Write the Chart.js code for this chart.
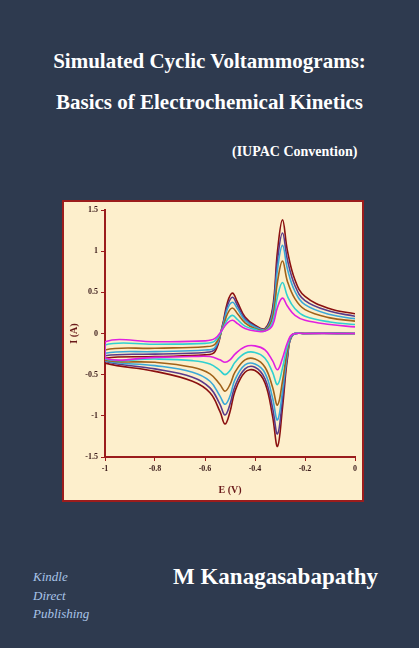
<!DOCTYPE html>
<html>
<head>
<meta charset="utf-8">
<script src="https://cdn.jsdelivr.net/npm/chart.js@4"></script>
<style>
  body { margin: 0; width: 419px; height: 648px; background: #2e3a4f; position: relative; overflow: hidden; font-family: "Liberation Serif", serif; }
  .t { position: absolute; color: #fff; font-weight: bold; white-space: nowrap; }
  #box { position: absolute; left: 62px; top: 200px; width: 298px; height: 298px; background: #fdefcc; border: 2px solid #9b1c1c; }
  .kdp { position: absolute; left: 33px; color: #a9c4e8; font-style: italic; font-size: 13px; }
</style>
</head>
<body>
<div class="t" style="left:0;width:419px;text-align:center;top:49px;font-size:21px">Simulated Cyclic Voltammograms:</div>
<div class="t" style="left:0;width:419px;text-align:center;top:90px;font-size:21px">Basics of Electrochemical Kinetics</div>
<div class="t" style="left:232px;top:144px;font-size:14px">(IUPAC Convention)</div>
<div id="box"><canvas id="cv" width="298" height="298"></canvas></div>
<div class="kdp" style="top:569px">Kindle</div>
<div class="kdp" style="top:588px">Direct</div>
<div class="kdp" style="top:606px">Publishing</div>
<div class="t" style="left:173px;top:564px;font-size:23px">M Kanagasabapathy</div>
<script>
// forward sweep 0 -> -1 V, then reverse -1 -> 0 V
const fwdE = [0, -0.2, -0.25, -0.27, -0.29, -0.31, -0.33, -0.36, -0.40, -0.44, -0.48, -0.50, -0.52, -0.54, -0.58, -0.65, -0.8, -1.0];
const revE = [-1, -0.8, -0.6, -0.56, -0.53, -0.51, -0.49, -0.47, -0.44, -0.40, -0.36, -0.33, -0.31, -0.29, -0.27, -0.24, -0.2, -0.1, 0];

const fwdDarkred = [0, 0, -0.02, -0.3, -0.9, -1.37, -1.0, -0.6, -0.45, -0.47, -0.7, -0.95, -1.1, -0.95, -0.72, -0.58, -0.46, -0.36];
const fwdPurple  = [0, 0, -0.02, -0.27, -0.8, -1.22, -0.9, -0.55, -0.41, -0.43, -0.64, -0.86, -0.99, -0.86, -0.66, -0.53, -0.43, -0.34];
const fwdBlue    = [0, 0, -0.02, -0.24, -0.7, -1.05, -0.78, -0.48, -0.37, -0.38, -0.56, -0.76, -0.86, -0.76, -0.58, -0.47, -0.39, -0.33];
const fwdBrown   = [0, 0, -0.01, -0.2, -0.58, -0.87, -0.65, -0.41, -0.31, -0.32, -0.47, -0.62, -0.70, -0.62, -0.49, -0.41, -0.35, -0.32];
const fwdCyan    = [0, 0, -0.01, -0.15, -0.42, -0.62, -0.47, -0.3, -0.23, -0.24, -0.35, -0.45, -0.50, -0.45, -0.37, -0.33, -0.31, -0.31];
const fwdMagenta = [0, 0, -0.01, -0.11, -0.3, -0.44, -0.33, -0.2, -0.15, -0.16, -0.25, -0.32, -0.35, -0.32, -0.28, -0.28, -0.29, -0.30];

const revDarkred = [-0.3, -0.28, -0.26, -0.22, 0.1, 0.38, 0.49, 0.38, 0.2, 0.1, 0.06, 0.3, 1.0, 1.38, 1.0, 0.65, 0.45, 0.3, 0.24];
const revPurple  = [-0.27, -0.25, -0.23, -0.19, 0.09, 0.34, 0.44, 0.34, 0.18, 0.09, 0.05, 0.27, 0.89, 1.22, 0.89, 0.58, 0.4, 0.27, 0.21];
const revBlue    = [-0.24, -0.22, -0.2, -0.17, 0.08, 0.3, 0.38, 0.3, 0.16, 0.08, 0.05, 0.23, 0.78, 1.07, 0.78, 0.51, 0.35, 0.23, 0.18];
const revBrown   = [-0.2, -0.18, -0.16, -0.13, 0.06, 0.24, 0.31, 0.24, 0.13, 0.06, 0.04, 0.19, 0.63, 0.88, 0.63, 0.42, 0.29, 0.19, 0.15];
const revCyan    = [-0.14, -0.13, -0.12, -0.09, 0.05, 0.17, 0.22, 0.17, 0.09, 0.05, 0.03, 0.14, 0.45, 0.62, 0.45, 0.3, 0.21, 0.14, 0.11];
const revMagenta = [-0.1, -0.1, -0.09, -0.06, 0.05, 0.13, 0.16, 0.12, 0.06, 0.03, 0.03, 0.1, 0.32, 0.43, 0.33, 0.22, 0.16, 0.11, 0.08];

const series = [
  { color: '#e020e0', fwd: fwdMagenta, rev: revMagenta },
  { color: '#30d0d0', fwd: fwdCyan, rev: revCyan },
  { color: '#a0621a', fwd: fwdBrown, rev: revBrown },
  { color: '#3aa8d8', fwd: fwdBlue, rev: revBlue },
  { color: '#5a3a8a', fwd: fwdPurple, rev: revPurple },
  { color: '#8b1010', fwd: fwdDarkred, rev: revDarkred }
];

const axisRed = '#9b1c1c';
const tickFont = { family: 'Liberation Serif', size: 8, weight: 'bold' };
const fmt = v => String(Math.round(v * 10) / 10);

new Chart(document.getElementById('cv'), {
  type: 'scatter',
  data: {
    datasets: series.map(s => ({
      data: fwdE.map((e, i) => ({ x: e, y: s.fwd[i] })).concat(revE.map((e, i) => ({ x: e, y: s.rev[i] }))),
      showLine: true,
      borderColor: s.color,
      borderWidth: 1.6,
      pointRadius: 0,
      tension: 0.4
    }))
  },
  options: {
    responsive: false,
    animation: false,
    layout: { padding: { top: 8, right: 7 } },
    plugins: { legend: { display: false }, tooltip: { enabled: false } },
    scales: {
      x: {
        min: -1, max: 0,
        afterFit: s => { s.height = 43; },
        border: { color: axisRed, width: 2 },
        grid: { drawOnChartArea: false, color: axisRed, tickLength: 4 },
        ticks: { stepSize: 0.2, color: '#3a1a1a', font: tickFont, callback: fmt },
        title: { display: true, text: 'E (V)', color: '#6a1a1a', font: { family: 'Liberation Serif', size: 10, weight: 'bold' } }
      },
      y: {
        min: -1.5, max: 1.5,
        afterFit: s => { s.width = 41; },
        border: { color: axisRed, width: 2 },
        grid: { drawOnChartArea: false, color: axisRed, tickLength: 4 },
        ticks: { stepSize: 0.5, color: '#3a1a1a', font: tickFont, callback: fmt },
        title: { display: true, text: 'I (A)', color: '#6a1a1a', font: { family: 'Liberation Serif', size: 10, weight: 'bold' } }
      }
    }
  }
});
</script>
</body>
</html>
